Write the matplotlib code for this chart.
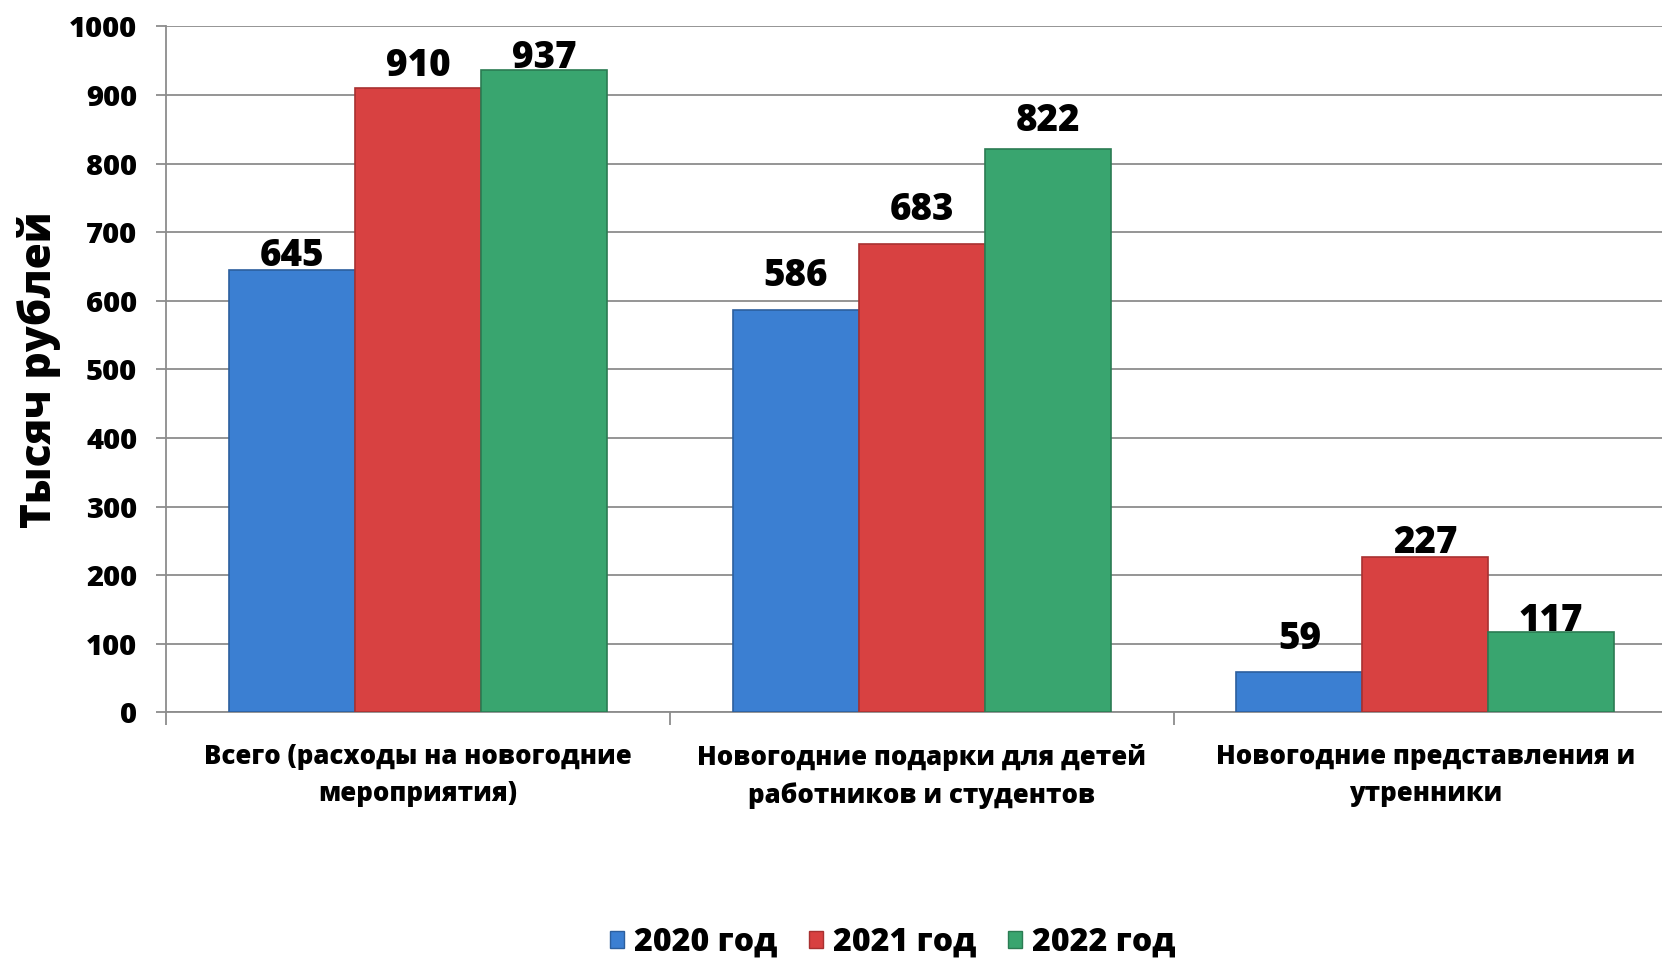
import numpy as np
import matplotlib.pyplot as plt
from matplotlib.patches import Patch

categories = ['Всего (расходы на новогодние\nмероприятия)',
              'Новогодние подарки для детей\nработников и студентов',
              'Новогодние представления и\nутренники']
years = ['2020 год', '2021 год', '2022 год']
v2020 = [645, 586, 59]
v2021 = [910, 683, 227]
v2022 = [937, 822, 117]

colors = ['#3b7fd2', '#d84141', '#39a56f']
edges = ['#2c5f9e', '#a83131', '#2b7c53']
# extra lift (points) for labels, as placed in the original
label_dy = [[-4, 11, 10], [2, 11, -4], [-5, 6, -6]]

plt.rcParams['font.family'] = ['Open Sans', 'DejaVu Sans']
plt.rcParams['font.weight'] = 'bold'

fig = plt.figure(figsize=(16.62, 9.59), dpi=100)
ax = fig.add_axes([0.1001, 0.2573, 0.909, 0.7151])

x = np.arange(len(categories))
w = 0.25
series = [v2020, v2021, v2022]
for i, vals in enumerate(series):
    bars = ax.bar(x + (i - 1) * w, vals, w, color=colors[i], edgecolor=edges[i],
                  linewidth=1.2, zorder=3)
    for j, b in enumerate(bars):
        ax.annotate(str(vals[j]), (b.get_x() + b.get_width() / 2, b.get_height()),
                    xytext=(0, label_dy[i][j]), textcoords='offset points',
                    ha='center', va='bottom', fontsize=26.5, fontweight=800, zorder=4)

ax.set_xlim(-0.5, 2.5)
ax.set_ylim(0, 1000)
ax.set_yticks(np.arange(0, 1001, 100))
ax.yaxis.grid(True, color='#8c8c8c', linewidth=1.3, zorder=0)
ax.set_axisbelow(True)

ax.set_xticks([-0.5, 0.5, 1.5, 2.5])
ax.set_xticklabels([])
ax.set_xticks(x, minor=True)
ax.set_xticklabels(categories, minor=True, fontsize=18.5, fontweight=800, linespacing=1.55)
ax.tick_params(axis='x', which='minor', length=0, pad=23)
ax.tick_params(axis='x', which='major', length=9, color='#8c8c8c', width=1.3)
ax.tick_params(axis='y', length=7, color='#8c8c8c', width=1.3, pad=14, labelsize=21)
for lab in ax.get_yticklabels():
    lab.set_fontweight(800)

for s in ['top', 'right']:
    ax.spines[s].set_visible(False)
for s in ['left', 'bottom']:
    ax.spines[s].set_color('#8c8c8c')
    ax.spines[s].set_linewidth(1.3)

ax.set_ylabel('Тысяч рублей', fontsize=30.5, fontweight=800, labelpad=6)

handles = [Patch(facecolor=colors[i], edgecolor=edges[i], label=years[i]) for i in range(3)]
fig.legend(handles=handles, loc='center', bbox_to_anchor=(0.537, 0.017), ncol=3,
           frameon=False, handlelength=0.45, handleheight=0.45,
           handletextpad=0.3, columnspacing=1.0,
           prop={'weight': 800, 'size': 23})

fig.savefig('out.png', dpi=100)
